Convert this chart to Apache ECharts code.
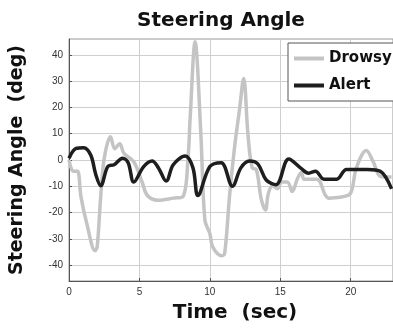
<!DOCTYPE html>
<html><head><meta charset="utf-8">
<script src="https://cdn.jsdelivr.net/npm/echarts@6/dist/echarts.min.js"></script>
<style>html,body{margin:0;padding:0;background:#fff}#c{width:393px;height:328px}</style>
</head><body><div id="c"></div>
<script>
const xTicks = [0, 5, 10, 15, 20];
const yTicks = [-40, -30, -20, -10, 0, 10, 20, 30, 40];
const alertT = [0,0.5,1.05,1.55,1.9,2.25,2.75,3.2,3.8,4.2,4.6,5.3,5.9,6.35,6.9,7.4,8.25,8.8,9.15,10,10.8,11.6,12.2,12.8,13.4,14,14.7,15.6,16.5,17.0,17.5,18.1,19.0,19.7,21.2,22.1,22.9];
const alertV = [0.7,4.4,4.7,1.8,-5.5,-9.8,-2.5,-1.8,0.7,-1,-8.4,-2.5,-0.4,-3,-8,-1.8,1.5,-3,-13.5,-2.5,-1,-10,-3,-0.4,-1.5,-7.6,-9.4,0.4,-3.3,-5,-4.3,-7.3,-7.3,-3.6,-3.6,-4.3,-11];
const drowsyT = [0,0.3,0.6,0.85,1.3,1.85,2.0,2.25,2.5,2.95,3.25,3.6,3.9,4.6,5.2,5.55,6.3,7.4,8.1,8.45,8.6,8.95,9.35,9.65,10.0,10.2,10.85,11.05,11.4,11.75,12.1,12.4,12.7,13.0,13.3,13.65,13.95,14.15,14.45,14.8,15.1,15.5,15.85,16.2,16.5,16.7,17.6,18.2,18.45,19.85,20.1,20.4,21.1,21.6,22.1,22.9];
const drowsyV = [0,-4.3,-4.3,-14,-25,-34.5,-33,-14,0.6,8.8,4.3,6.2,2.5,-0.7,-8.5,-13.4,-15.3,-14.5,-13.8,0.7,16,45,11,-23,-28,-33,-36.4,-35.6,-13.5,4.7,19,31,10,-3,-3.6,-15,-19,-12.7,-9.8,-10.9,-8.4,-8.4,-12,-7.3,-4.7,-7.3,-7.3,-13.4,-14.5,-13.4,-11,-3,3.6,-0.7,-6.2,-6.5];

const zip = (a, b) => a.map((t, i) => [t, b[i]]);
const chart = echarts.init(document.getElementById('c'));
const lbl = {fontFamily: 'Liberation Sans', fontSize: 10, color: '#333'};
chart.setOption({
  animation: false,
  title: {text: 'Steering Angle', left: 216, top: 6, textAlign: 'center',
    textStyle: {fontFamily: 'DejaVu Sans', fontWeight: 'bold', fontSize: 20, color: '#111'}},
  grid: {left: 68, top: 39, right: 0, bottom: 36, show: true, borderColor: '#999', borderWidth: 1},
  legend: {orient: 'vertical', left: 288, top: 43, itemWidth: 30, itemHeight: 4, icon: 'rect',
    itemGap: 12, borderColor: '#555', borderWidth: 1, padding: [8, 30, 8, 6], backgroundColor: '#fff',
    textStyle: {fontFamily: 'DejaVu Sans', fontWeight: 'bold', fontSize: 15, color: '#111'},
    data: [{name: 'Drowsy', itemStyle: {color: '#c4c4c4'}}, {name: 'Alert', itemStyle: {color: '#1e1e1e'}}]},
  xAxis: {type: 'value', min: 0, max: 23,
    name: 'Time  (sec)', nameLocation: 'middle', nameGap: 22,
    nameTextStyle: {fontFamily: 'DejaVu Sans', fontWeight: 'bold', fontSize: 20, color: '#111', padding: [0, 0, 0, 8]},
    axisLine: {onZero: false, lineStyle: {color: '#555'}},
    axisTick: {inside: true, length: 3, customValues: xTicks, lineStyle: {color: '#555'}},
    axisLabel: Object.assign({customValues: xTicks, margin: 6}, lbl),
    splitLine: {show: true, lineStyle: {color: '#cfcfcf'}}},
  yAxis: {type: 'value', min: -46, max: 46,
    name: 'Steering Angle  (deg)', nameLocation: 'middle', nameGap: 42,
    nameTextStyle: {fontFamily: 'DejaVu Sans', fontWeight: 'bold', fontSize: 19, color: '#111'},
    axisLine: {show: true, onZero: false, lineStyle: {color: '#555'}},
    axisTick: {show: true, inside: true, length: 3, customValues: yTicks, lineStyle: {color: '#555'}},
    axisLabel: Object.assign({customValues: yTicks, margin: 6}, lbl),
    splitLine: {show: true, lineStyle: {color: '#cfcfcf'}}},
  series: [
    {name: 'Drowsy', type: 'line', data: zip(drowsyT, drowsyV), smooth: 0.35, showSymbol: false,
      lineStyle: {color: '#c4c4c4', width: 3.5}, itemStyle: {color: '#c4c4c4'}},
    {name: 'Alert', type: 'line', data: zip(alertT, alertV), smooth: 0.35, showSymbol: false,
      lineStyle: {color: '#1e1e1e', width: 3.5}, itemStyle: {color: '#1e1e1e'}}
  ]
});
</script></body></html>
